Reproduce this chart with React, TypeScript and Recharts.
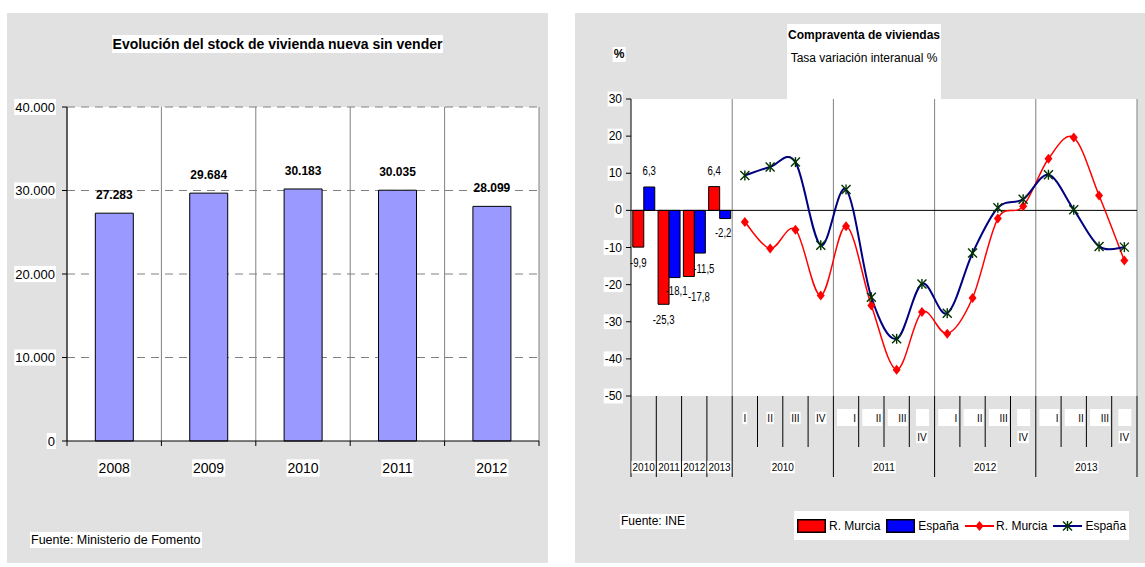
import React from 'react';
import {
  BarChart,
  Bar,
  XAxis,
  YAxis,
  CartesianGrid,
  LabelList,
  ComposedChart,
  Line,
  ReferenceLine,
} from 'recharts';

// ---------------- DATA ----------------
const stockYears = ['2008', '2009', '2010', '2011', '2012'];
const stockValues = [27283, 29684, 30183, 30035, 28099];
const stockTicks = [0, 10000, 20000, 30000, 40000];

const annualYears = ['2010', '2011', '2012', '2013'];
const annualMurcia = [-9.9, -25.3, -17.8, 6.4];
const annualEspana = [6.3, -18.1, -11.5, -2.2];

const quarterYears = ['2010', '2011', '2012', '2013'];
const quarterNames = ['I', 'II', 'III', 'IV'];
const quarterMurcia = [-3.1, -10.3, -5.2, -22.9, -4.3, -25.6, -42.9, -27.4, -33.2, -23.6, -2.2, 1.1, 13.9, 19.6, 4.0, -13.5];
const quarterEspana = [9.4, 11.7, 13.0, -9.4, 5.6, -23.4, -34.6, -19.8, -27.7, -11.5, 0.7, 3.0, 9.6, 0.2, -9.7, -9.9];
const salesTicks = [-50, -40, -30, -20, -10, 0, 10, 20, 30];

const stockData = stockYears.map((year, i) => ({ year, stock: stockValues[i] }));

type SalesRow = {
  key: string;
  kind: 'annual' | 'quarter';
  year: string;
  q: string;
  qi: number;
  yi: number;
  murciaBar: number | null;
  espanaBar: number | null;
  murciaLine: number | null;
  espanaLine: number | null;
};

const salesData: SalesRow[] = [
  ...annualYears.map((y, i) => ({
    key: 'a' + y,
    kind: 'annual' as const,
    year: y,
    q: '',
    qi: -1,
    yi: i,
    murciaBar: annualMurcia[i],
    espanaBar: annualEspana[i],
    murciaLine: null,
    espanaLine: null,
  })),
  ...quarterYears.flatMap((y, yi) =>
    quarterNames.map((q, qi) => ({
      key: y + '-' + q,
      kind: 'quarter' as const,
      year: y,
      q,
      qi,
      yi,
      murciaBar: null,
      espanaBar: null,
      murciaLine: quarterMurcia[yi * 4 + qi],
      espanaLine: quarterEspana[yi * 4 + qi],
    }))
  ),
];

// ---------------- STYLE / LAYOUT ----------------
const FONT = '"Liberation Sans", Arial, Helvetica, sans-serif';
const PANEL_BG = '#E1E1E1';
const GRID = '#808080';

const L_W = 560;
const L_H = 567;
const L_MARGIN = { top: 107, right: 21, bottom: 96, left: 7 };
const L_YW = 60;
const L_BAND = (L_W - L_MARGIN.left - L_MARGIN.right - L_YW) / stockYears.length;

const R_LEFT = 575;
const R_W = 570;
const R_H = 567;
const R_MARGIN = { top: 99, right: 8, bottom: 141, left: 6 };
const R_YW = 50;
const R_BAND = (R_W - R_MARGIN.left - R_MARGIN.right - R_YW) / salesData.length;

// ---------------- HELPERS ----------------
let measureCtx: CanvasRenderingContext2D | null = null;
function textWidth(t: string, size: number, bold = false): number {
  if (!measureCtx) {
    const c = document.createElement('canvas');
    measureCtx = c.getContext('2d');
  }
  if (!measureCtx) return t.length * size * 0.55;
  measureCtx.font = `${bold ? 'bold ' : ''}${size}px ${FONT}`;
  return measureCtx.measureText(t).width;
}

function BgText(props: {
  x: number;
  y: number;
  text: string;
  size: number;
  anchor?: 'start' | 'middle' | 'end';
  bold?: boolean;
  pad?: number;
  bg?: boolean;
}) {
  const { x, y, text, size, anchor = 'middle', bold = false, pad = 1, bg = true } = props;
  const w = textWidth(text, size, bold);
  const left = anchor === 'middle' ? x - w / 2 : anchor === 'end' ? x - w : x;
  return (
    <g>
      {bg && (
        <rect x={left - pad} y={y - size * 0.62} width={w + 2 * pad} height={size * 1.24} fill="#fff" />
      )}
      <text
        x={x}
        y={y}
        dominantBaseline="central"
        textAnchor={anchor}
        fontSize={size}
        fontWeight={bold ? 'bold' : 'normal'}
        fontFamily={FONT}
        fill="#000"
      >
        {text}
      </text>
    </g>
  );
}

const fmtThousands = (v: number) => String(v).replace(/\B(?=(\d{3})+(?!\d))/g, '.');
const fmtComma = (v: number) => String(v).replace('.', ',');

// Excel-like smoothed curve (Catmull-Rom through points)
const excelSmooth: any = (context: any) => {
  let pts: [number, number][] = [];
  return {
    areaStart() {},
    areaEnd() {},
    lineStart() {
      pts = [];
    },
    lineEnd() {
      if (!pts.length) return;
      context.moveTo(pts[0][0], pts[0][1]);
      for (let i = 0; i < pts.length - 1; i++) {
        const p0 = pts[i - 1] || pts[i];
        const p1 = pts[i];
        const p2 = pts[i + 1];
        const p3 = pts[i + 2] || pts[i + 1];
        context.bezierCurveTo(
          p1[0] + (p2[0] - p0[0]) / 6,
          p1[1] + (p2[1] - p0[1]) / 6,
          p2[0] - (p3[0] - p1[0]) / 6,
          p2[1] - (p3[1] - p1[1]) / 6,
          p2[0],
          p2[1]
        );
      }
    },
    point(x: number, y: number) {
      pts.push([+x, +y]);
    },
  };
};

// ---------------- LEFT CHART PARTS ----------------
function StockXTick(props: any) {
  const { x, y, index, payload } = props;
  const half = L_BAND / 2;
  return (
    <g>
      {index === 0 && <line x1={x - half} x2={x - half} y1={y} y2={y + 5} stroke="#000" />}
      <line x1={x + half} x2={x + half} y1={y} y2={y + 5} stroke="#000" />
      <BgText x={x} y={y + 27} text={String(payload.value)} size={14} />
    </g>
  );
}

function StockYTick(props: any) {
  const { x, y, payload } = props;
  return <BgText x={x} y={y} text={fmtThousands(payload.value)} size={13} anchor="end" />;
}

function StockLabel(props: any) {
  const { x, y, width, value } = props;
  if (value == null) return null;
  return (
    <text
      x={x + width / 2}
      y={y - 18}
      textAnchor="middle"
      dominantBaseline="central"
      fontSize={12}
      fontWeight="bold"
      fontFamily={FONT}
      fill="#000"
    >
      {fmtThousands(value)}
    </text>
  );
}

// ---------------- RIGHT CHART PARTS ----------------
function SalesYTick(props: any) {
  const { x, y, payload } = props;
  return <BgText x={x} y={y} text={String(payload.value)} size={12} anchor="end" />;
}

function SalesXTick(props: any) {
  const { x, y, index } = props;
  const row = salesData[index];
  if (!row) return null;
  const half = R_BAND / 2;
  const left = x - half;
  const right = x + half;
  const LONG = 81;
  const SHORT = 51;
  const els: React.ReactNode[] = [];
  if (row.kind === 'annual') {
    els.push(<line key="l" x1={left} x2={left} y1={y} y2={y + LONG} stroke="#000" />);
    els.push(<BgText key="t" x={x} y={y + 71} text={row.year} size={10} />);
  } else {
    const long = row.qi === 0;
    els.push(<line key="l" x1={left} x2={left} y1={y} y2={y + (long ? LONG : SHORT)} stroke="#000" />);
    if (index === salesData.length - 1) {
      els.push(<line key="r" x1={right} x2={right} y1={y} y2={y + LONG} stroke="#000" />);
    }
    if (row.yi === 0) {
      els.push(<BgText key="q" x={x} y={y + 22} text={row.q} size={10} />);
    } else if (row.qi < 3) {
      els.push(<rect key="qb" x={x - 9} y={y + 13} width={20} height={17} fill="#fff" />);
      els.push(<BgText key="q" x={x + 10} y={y + 22} text={row.q} size={10} anchor="end" bg={false} />);
    } else {
      els.push(<rect key="qb" x={x - 6} y={y + 13} width={13} height={17} fill="#fff" />);
      els.push(<BgText key="q" x={x} y={y + 41} text={row.q} size={10} />);
    }
    if (row.qi === 1) {
      els.push(<BgText key="y" x={right} y={y + 71} text={row.year} size={10} />);
    }
  }
  return <g>{els}</g>;
}

const barNudges: Record<string, Record<number, { dx: number; dy: number }>> = {
  murcia: { 2: { dx: 10, dy: 5 } },
  espana: { 1: { dx: 2, dy: -3 }, 2: { dx: 4, dy: 0 }, 3: { dx: -2, dy: -2 } },
};

const BAR_LABEL_SIZE = 12;
const BAR_LABEL_CONDENSE = 0.8;

const makeBarLabel = (series: string) => (props: any) => {
  const { x, y, width, height, value, index } = props;
  if (value == null) return null;
  const top = Math.min(y, y + height);
  const bottom = Math.max(y, y + height);
  const n = (barNudges[series] || {})[index] || { dx: 0, dy: 0 };
  const cx = x + width / 2 + n.dx;
  const cy = (value >= 0 ? top - 16 : bottom + 16) + n.dy;
  const txt = fmtComma(value);
  const w = textWidth(txt, BAR_LABEL_SIZE) * BAR_LABEL_CONDENSE;
  return (
    <text
      x={cx - w / 2}
      y={cy}
      textLength={w}
      lengthAdjust="spacingAndGlyphs"
      dominantBaseline="central"
      fontSize={BAR_LABEL_SIZE}
      fontFamily={FONT}
      fill="#000"
    >
      {txt}
    </text>
  );
};

function DiamondDot(props: any) {
  const { cx, cy } = props;
  if (cx == null || cy == null || isNaN(cy)) return null;
  return <polygon points={`${cx},${cy - 5} ${cx + 4},${cy} ${cx},${cy + 5} ${cx - 4},${cy}`} fill="#FF0000" />;
}

function StarDot(props: any) {
  const { cx, cy } = props;
  if (cx == null || cy == null || isNaN(cy)) return null;
  const s = 4.5;
  return (
    <g stroke="#003300" strokeWidth={1.4}>
      <line x1={cx} x2={cx} y1={cy - s - 0.5} y2={cy + s + 0.5} />
      <line x1={cx - s} x2={cx + s} y1={cy - s} y2={cy + s} />
      <line x1={cx - s} x2={cx + s} y1={cy + s} y2={cy - s} />
    </g>
  );
}

// ---------------- HTML TEXT ----------------
function HText(props: {
  left: number;
  top: number;
  size: number;
  bold?: boolean;
  center?: boolean;
  children: React.ReactNode;
}) {
  const { left, top, size, bold, center, children } = props;
  return (
    <div
      style={{
        position: 'absolute',
        left,
        top,
        fontSize: size,
        fontWeight: bold ? 700 : 400,
        lineHeight: `${Math.round(size * 1.25)}px`,
        background: '#fff',
        whiteSpace: 'nowrap',
        padding: '0 1px',
        transform: center ? 'translateX(-50%)' : undefined,
        color: '#000',
      }}
    >
      {children}
    </div>
  );
}

function LegendItemBox({ color }: { color: string }) {
  return (
    <svg width={29} height={14} style={{ display: 'block' }}>
      <rect x={0.75} y={0.75} width={27.5} height={12.5} fill={color} stroke="#000" strokeWidth={1.5} />
    </svg>
  );
}

function LegendItemLine({ color, marker }: { color: string; marker: 'diamond' | 'star' }) {
  return (
    <svg width={29} height={14} style={{ display: 'block' }}>
      <line x1={0} x2={29} y1={7} y2={7} stroke={color} strokeWidth={2} />
      {marker === 'diamond' ? <DiamondDot cx={14.5} cy={7} /> : <StarDot cx={14.5} cy={7} />}
    </svg>
  );
}

export default function App() {
  return (
    <div
      style={{
        position: 'absolute',
        left: 0,
        top: 0,
        width: 1145,
        height: 567,
        background: '#fff',
        fontFamily: FONT,
        overflow: 'hidden',
      }}
    >
      {/* panels */}
      <div style={{ position: 'absolute', left: 7, top: 13, width: 541, height: 550, background: PANEL_BG }} />
      <div style={{ position: 'absolute', left: R_LEFT, top: 13, width: 570, height: 550, background: PANEL_BG }} />

      {/* LEFT CHART */}
      <div style={{ position: 'absolute', left: 0, top: 0 }}>
        <BarChart width={L_W} height={L_H} data={stockData} margin={L_MARGIN} barCategoryGap="30%">
          <CartesianGrid
            fill="#fff"
            stroke={GRID}
            horizontal={false}
            verticalCoordinatesGenerator={(args: any) => {
              const off = args && args.offset;
              const l = off ? off.left : L_MARGIN.left + L_YW;
              const w = off ? off.width : L_BAND * stockYears.length;
              return stockYears.map((_, i) => l + (i * w) / stockYears.length).concat([l + w]);
            }}
          />
          <CartesianGrid stroke={GRID} strokeDasharray="8 6" vertical={false} horizontalValues={stockTicks.slice(1)} fill="none" />
          <XAxis
            dataKey="year"
            interval={0}
            tickLine={false}
            tickSize={0}
            tickMargin={0}
            axisLine={{ stroke: '#000' }}
            tick={<StockXTick />}
            height={30}
          />
          <YAxis
            domain={[0, 40000]}
            ticks={stockTicks}
            width={L_YW}
            tickSize={5}
            tickMargin={7}
            tickLine={{ stroke: '#000' }}
            axisLine={{ stroke: '#000' }}
            tick={<StockYTick />}
            interval={0}
          />
          <Bar dataKey="stock" fill="#9999FF" stroke="#000" strokeWidth={1} isAnimationActive={false}>
            <LabelList dataKey="stock" content={<StockLabel />} />
          </Bar>
        </BarChart>
      </div>

      {/* RIGHT CHART */}
      <div style={{ position: 'absolute', left: R_LEFT, top: 0 }}>
        <ComposedChart width={R_W} height={R_H} data={salesData} margin={R_MARGIN} barCategoryGap="7%" barGap={0}>
          <CartesianGrid
            fill="#fff"
            stroke={GRID}
            horizontal={false}
            verticalCoordinatesGenerator={(args: any) => {
              const off = args && args.offset;
              const l = off ? off.left : R_MARGIN.left + R_YW;
              const w = off ? off.width : R_BAND * salesData.length;
              const n = salesData.length;
              const pts: number[] = [];
              salesData.forEach((r, i) => {
                if (r.kind === 'quarter' && r.qi === 0) pts.push(l + (i * w) / n);
              });
              pts.push(l + w);
              return pts;
            }}
          />
          <XAxis
            dataKey="key"
            interval={0}
            tickLine={false}
            tickSize={0}
            tickMargin={0}
            axisLine={false}
            tick={<SalesXTick />}
            height={30}
          />
          <YAxis
            domain={[-50, 30]}
            ticks={salesTicks}
            width={R_YW}
            tickSize={5}
            tickMargin={4}
            tickLine={{ stroke: '#000' }}
            axisLine={{ stroke: '#000' }}
            tick={<SalesYTick />}
            interval={0}
          />
          <ReferenceLine y={0} stroke="#000" strokeWidth={1} />
          <Bar dataKey="murciaBar" fill="#FF0000" stroke="#000" strokeWidth={1} isAnimationActive={false}>
            <LabelList dataKey="murciaBar" content={makeBarLabel('murcia')} />
          </Bar>
          <Bar dataKey="espanaBar" fill="#0000FF" stroke="#000" strokeWidth={1} isAnimationActive={false}>
            <LabelList dataKey="espanaBar" content={makeBarLabel('espana')} />
          </Bar>
          <Line
            dataKey="murciaLine"
            type={excelSmooth}
            stroke="#FF0000"
            strokeWidth={1.5}
            dot={<DiamondDot />}
            activeDot={false}
            isAnimationActive={false}
          />
          <Line
            dataKey="espanaLine"
            type={excelSmooth}
            stroke="#000080"
            strokeWidth={2}
            dot={<StarDot />}
            activeDot={false}
            isAnimationActive={false}
          />
        </ComposedChart>
      </div>

      {/* LEFT TEXTS */}
      <HText left={277.5} top={35} size={14} bold center>
        Evolución del stock de vivienda nueva sin vender
      </HText>
      <HText left={30} top={532} size={12.5}>
        Fuente: Ministerio de Fomento
      </HText>

      {/* RIGHT TEXTS */}
      <div
        style={{
          position: 'absolute',
          left: 787,
          top: 24,
          width: 154,
          height: 75,
          background: '#fff',
          textAlign: 'center',
          color: '#000',
          whiteSpace: 'nowrap',
        }}
      >
        <div style={{ fontSize: 12, fontWeight: 700, lineHeight: '15px', marginTop: 4 }}>Compraventa de viviendas</div>
        <div style={{ fontSize: 12, lineHeight: '15px', marginTop: 8 }}>Tasa variación interanual %</div>
      </div>
      <HText left={619} top={47} size={12} bold center>
        %
      </HText>
      <HText left={620} top={514} size={12}>
        Fuente: INE
      </HText>

      {/* LEGEND */}
      <div
        style={{
          position: 'absolute',
          left: 794,
          top: 511,
          width: 335,
          height: 29,
          background: '#fff',
          display: 'flex',
          alignItems: 'center',
          fontSize: 12,
          color: '#000',
          whiteSpace: 'nowrap',
          boxSizing: 'border-box',
          paddingLeft: 3,
        }}
      >
        <LegendItemBox color="#FF0000" />
        <span style={{ marginLeft: 3, marginRight: 6 }}>R. Murcia</span>
        <LegendItemBox color="#0000FF" />
        <span style={{ marginLeft: 3, marginRight: 6 }}>España</span>
        <LegendItemLine color="#FF0000" marker="diamond" />
        <span style={{ marginLeft: 2, marginRight: 6 }}>R. Murcia</span>
        <LegendItemLine color="#000080" marker="star" />
        <span style={{ marginLeft: 3 }}>España</span>
      </div>
    </div>
  );
}
